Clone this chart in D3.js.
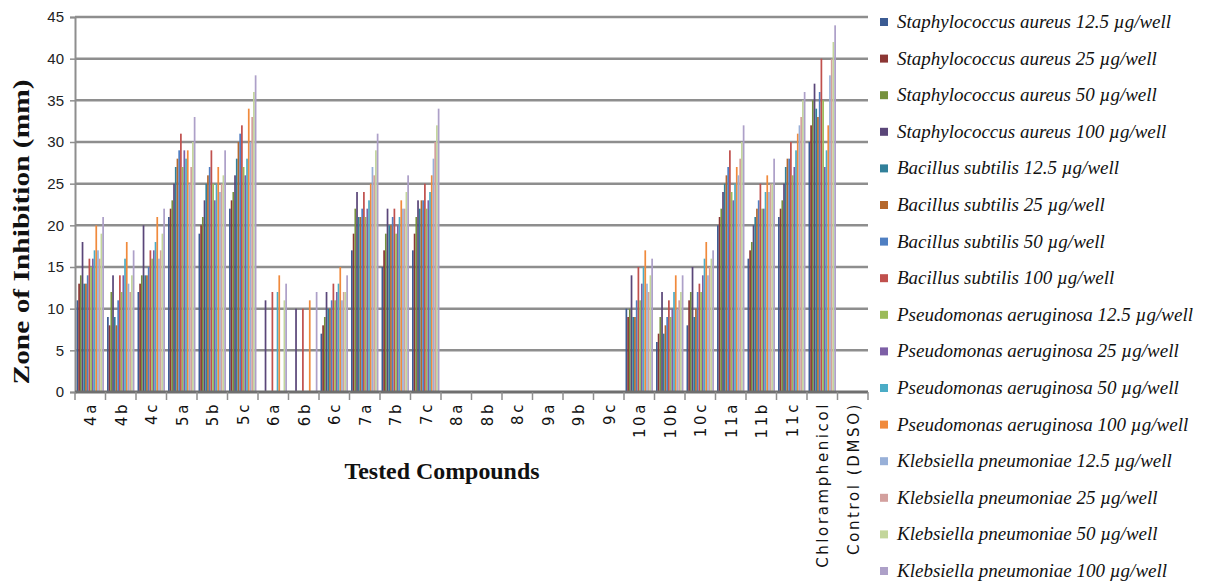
<!DOCTYPE html>
<html>
<head>
<meta charset="utf-8">
<script src="https://cdn.jsdelivr.net/npm/d3@7"></script>
<style>
  body { margin: 0; background: #fff; }
</style>
</head>
<body>
<div id="chart-area"></div>
<script>
var width = 1225;
var height = 584;

// categories on x axis
var compounds = ["4a","4b","4c","5a","5b","5c","6a","6b","6c","7a","7b","7c",
  "8a","8b","8c","9a","9b","9c","10a","10b","10c","11a","11b","11c",
  "Chloramphenicol","Control (DMSO)"];

var seriesNames = [
  "Staphylococcus aureus 12.5 µg/well",
  "Staphylococcus aureus 25 µg/well",
  "Staphylococcus aureus 50 µg/well",
  "Staphylococcus aureus 100 µg/well",
  "Bacillus subtilis 12.5 µg/well",
  "Bacillus subtilis 25 µg/well",
  "Bacillus subtilis 50 µg/well",
  "Bacillus subtilis 100 µg/well",
  "Pseudomonas aeruginosa 12.5 µg/well",
  "Pseudomonas aeruginosa 25 µg/well",
  "Pseudomonas aeruginosa 50 µg/well",
  "Pseudomonas aeruginosa 100 µg/well",
  "Klebsiella pneumoniae 12.5 µg/well",
  "Klebsiella pneumoniae 25 µg/well",
  "Klebsiella pneumoniae 50 µg/well",
  "Klebsiella pneumoniae 100 µg/well"
];

var colors = ["#3b5b93","#8c3634","#76923c","#5a4679","#31809a","#b5672b",
  "#4f7fc2","#c0504d","#9bbb59","#7d5fa6","#4bacc6","#f08a3c",
  "#98b0d8","#d3a09e","#c3d69b","#ada0c8"];

var yTicks = [0,5,10,15,20,25,30,35,40,45];

// zone of inhibition (mm), one array per series, in compound order
var staph12 = [11,9,12,21,19,22,0,0,7,17,15,17,0,0,0,0,0,0,10,6,8,20,16,21,30,0];
var staph25 = [13,8,13,22,20,23,0,0,8,19,17,19,0,0,0,0,0,0,9,7,11,21,17,22,32,0];
var staph50 = [14,12,14,23,21,24,0,0,9,22,19,21,0,0,0,0,0,0,10,9,12,22,18,23,35,0];
var staph100 = [18,14,20,25,23,26,11,10,12,24,22,23,0,0,0,0,0,0,14,12,15,24,20,25,37,0];
var bac12 = [13,9,14,27,25,28,0,0,10,21,20,22,0,0,0,0,0,0,9,7,9,25,21,27,34,0];
var bac25 = [13,8,14,28,26,30,0,0,10,21,20,23,0,0,0,0,0,0,9,8,10,26,22,28,33,0];
var bac50 = [14,11,15,29,27,31,0,0,11,22,21,23,0,0,0,0,0,0,11,9,12,27,23,28,36,0];
var bac100 = [16,14,17,31,29,32,12,10,13,24,22,25,0,0,0,0,0,0,15,11,13,29,25,30,40,0];
var pseudo12 = [15,12,16,27,25,27,0,0,11,21,19,22,0,0,0,0,0,0,11,9,12,24,22,26,35,0];
var pseudo25 = [16,14,17,29,23,26,0,0,12,22,20,23,0,0,0,0,0,0,13,10,14,23,22,27,27,0];
var pseudo50 = [17,16,18,28,25,28,12,0,13,23,21,24,0,0,0,0,0,0,15,12,16,25,24,29,29,0];
var pseudo100 = [20,18,21,29,27,34,14,11,15,25,23,26,0,0,0,0,0,0,17,14,18,27,26,31,32,0];
var kleb12 = [17,13,16,25,24,30,0,0,11,27,22,28,0,0,0,0,0,0,13,10,14,26,24,32,38,0];
var kleb25 = [16,12,17,27,25,33,0,0,12,26,22,30,0,0,0,0,0,0,12,11,15,28,25,33,40,0];
var kleb50 = [19,14,19,30,26,36,11,0,12,29,24,32,0,0,0,0,0,0,14,12,16,30,25,35,42,0];
var kleb100 = [21,17,22,33,29,38,13,12,14,31,26,34,0,0,0,0,0,0,16,14,17,32,28,36,44,0];

var allSeries = [staph12,staph25,staph50,staph100,bac12,bac25,bac50,bac100,
  pseudo12,pseudo25,pseudo50,pseudo100,kleb12,kleb25,kleb50,kleb100];

var plotLeft = 75, plotRight = 868, plotTop = 17, plotBottom = 392;

var svg = d3.select("#chart-area").append("svg")
    .attr("width", width)
    .attr("height", height)
    .style("background", "#fff");

var scaleX = d3.scaleBand()
    .domain(compounds)
    .range([plotLeft, plotRight])
    .paddingInner(0.1)
    .paddingOuter(0.05);

var scaleSeries = d3.scaleBand()
    .domain(d3.range(seriesNames.length))
    .range([0, scaleX.bandwidth()]);

var scaleY = d3.scaleLinear()
    .domain([0, 45])
    .range([plotBottom, plotTop]);

//gridlines
svg.append("g")
    .selectAll("line")
    .data(yTicks.slice(1))
    .enter()
    .append("line")
    .attr("x1", plotLeft)
    .attr("x2", plotRight)
    .attr("y1", function(d){ return scaleY(d); })
    .attr("y2", function(d){ return scaleY(d); })
    .attr("stroke", "#8e8e8e")
    .attr("stroke-width", 2.5);

//bars
var rows = [];
allSeries.forEach(function(vals, s){
    vals.forEach(function(v, c){
        if (v > 0) rows.push({s: s, c: compounds[c], v: v});
    });
});

svg.append("g")
    .selectAll("rect")
    .data(rows)
    .enter()
    .append("rect")
    .attr("x", function(d){ return scaleX(d.c) + scaleSeries(d.s); })
    .attr("width", scaleSeries.bandwidth())
    .attr("y", function(d){ return scaleY(d.v); })
    .attr("height", function(d){ return scaleY(0) - scaleY(d.v); })
    .attr("fill", function(d){ return colors[d.s]; });

//y axis
var y_axis = d3.axisLeft(scaleY)
    .tickValues(yTicks)
    .tickSize(5)
    .tickPadding(6);

var gy = svg.append("g")
    .attr("transform", "translate(" + plotLeft + ",0)")
    .call(y_axis);
gy.select(".domain").attr("stroke", "#8e8e8e").attr("stroke-width", 2);
gy.selectAll(".tick line").attr("stroke", "#8e8e8e").attr("stroke-width", 1.5);
gy.selectAll(".tick text")
    .attr("font-family", "Liberation Sans, Arial, sans-serif")
    .attr("font-size", 15)
    .attr("fill", "#222");

//x axis baseline + ticks at band edges
svg.append("line")
    .attr("x1", plotLeft).attr("x2", plotRight)
    .attr("y1", plotBottom).attr("y2", plotBottom)
    .attr("stroke", "#6f6f6f")
    .attr("stroke-width", 3);

var edges = compounds.map(function(c){ return scaleX(c) - scaleX.step() * scaleX.paddingInner() / 2; });
edges.push(plotRight);
svg.append("g")
    .selectAll("line")
    .data(edges)
    .enter()
    .append("line")
    .attr("x1", function(d){ return d; })
    .attr("x2", function(d){ return d; })
    .attr("y1", plotBottom)
    .attr("y2", plotBottom + 8)
    .attr("stroke", "#8e8e8e")
    .attr("stroke-width", 1.5);

svg.append("g")
    .selectAll("text")
    .data(compounds)
    .enter()
    .append("text")
    .text(function(d){ return d; })
    .attr("transform", function(d){
        return "translate(" + (scaleX(d) + scaleX.bandwidth() / 2 + 6) + "," + (plotBottom + 10) + ") rotate(-90)";
    })
    .attr("text-anchor", "end")
    .attr("font-family", "DejaVu Sans, Verdana, sans-serif")
    .attr("font-size", 15)
    .attr("letter-spacing", 2.6)
    .attr("fill", "#111");

//axis titles
svg.append("text")
    .text("Tested Compounds")
    .attr("x", 442)
    .attr("y", 479)
    .attr("text-anchor", "middle")
    .attr("font-family", "Liberation Serif, Times New Roman, serif")
    .attr("font-weight", "bold")
    .attr("font-size", 23)
    .attr("textLength", 195)
    .attr("lengthAdjust", "spacingAndGlyphs")
    .attr("fill", "#111");

svg.append("text")
    .text("Zone of Inhibition (mm)")
    .attr("transform", "translate(29,232) rotate(-90)")
    .attr("text-anchor", "middle")
    .attr("font-family", "Liberation Serif, Times New Roman, serif")
    .attr("font-weight", "bold")
    .attr("font-size", 24)
    .attr("textLength", 305)
    .attr("lengthAdjust", "spacingAndGlyphs")
    .attr("fill", "#111");

//legend
var legend = svg.append("g")
    .selectAll("g")
    .data(seriesNames)
    .enter()
    .append("g")
    .attr("transform", function(d, i){ return "translate(880," + (22 + i * 36.6) + ")"; });

legend.append("rect")
    .attr("x", 0)
    .attr("y", -4)
    .attr("width", 8)
    .attr("height", 8)
    .attr("fill", function(d, i){ return colors[i]; });

legend.append("text")
    .text(function(d){ return d; })
    .attr("x", 17)
    .attr("y", 6)
    .attr("font-family", "Liberation Serif, Times New Roman, serif")
    .attr("font-style", "italic")
    .attr("font-size", 19)
    .attr("fill", "#111");
</script>
</body>
</html>
